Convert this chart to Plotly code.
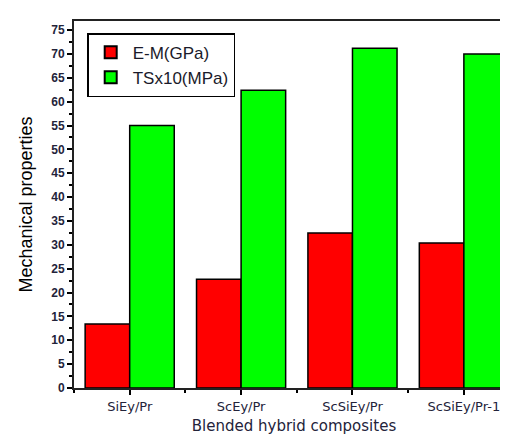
import plotly.graph_objects as go

categories = ["SiEy/Pr", "ScEy/Pr", "ScSiEy/Pr", "ScSiEy/Pr-1"]
em_gpa = [13.4, 22.8, 32.5, 30.4]
ts_x10 = [55.0, 62.4, 71.2, 70.0]
y_ticks = list(range(0, 80, 5))

xpos = list(range(len(categories)))
arial = "Arial, Liberation Sans, sans-serif"
dejavu = "DejaVu Sans, sans-serif"
label_color = "#23233a"

fig = go.Figure()
fig.add_trace(go.Bar(x=xpos, y=em_gpa, name="E-M(GPa)",
                     marker=dict(color="#ff0000", line=dict(color="black", width=1.5))))
fig.add_trace(go.Bar(x=xpos, y=ts_x10, name="TSx10(MPa)",
                     marker=dict(color="#00ff00", line=dict(color="black", width=1.5))))

fig.update_layout(
    width=508, height=435,
    margin=dict(l=66, r=2, t=13, b=55, autoexpand=False),
    paper_bgcolor="white", plot_bgcolor="white",
    barmode="group", bargap=0.2, bargroupgap=0,
    font=dict(family=arial, color="black"),
    showlegend=True,
    legend=dict(x=0.03, y=0.967, xanchor="left", yanchor="top",
                bordercolor="black", borderwidth=1.5, bgcolor="white",
                font=dict(size=17, family=arial, color="#1a1a2a"), tracegroupgap=0,
                itemsizing="constant", itemwidth=34),
)
fig.update_xaxes(
    automargin=False,
    range=[-0.5, 3.45], tickmode="array", tickvals=xpos, ticktext=categories,
    showline=True, linecolor="#222222", linewidth=2, mirror=True,
    ticks="outside", ticklen=5, tickwidth=1.5, tickcolor="black",
    minor=dict(tick0=0.5, dtick=1, ticks="outside", ticklen=3, tickwidth=1.5, tickcolor="black"),
    showgrid=False, zeroline=False,
    tickfont=dict(size=13, family=dejavu, color=label_color),
    title=dict(text="Blended hybrid composites", font=dict(size=15, family=dejavu, color=label_color), standoff=8),
)
fig.update_yaxes(
    automargin=False,
    range=[0, 76.9], tickmode="array", tickvals=y_ticks,
    showline=True, linecolor="#222222", linewidth=2, mirror=True,
    ticks="outside", ticklen=5, tickwidth=1.5, tickcolor="black",
    minor=dict(dtick=2.5, ticks="outside", ticklen=3, tickwidth=1.5, tickcolor="black"),
    showgrid=False, zeroline=False,
    tickfont=dict(size=12, family=arial, color=label_color, weight="bold"),
    title=dict(text="Mechanical properties", font=dict(size=18, family=arial, color="black"), standoff=14),
)

fig.write_html("out.html")
